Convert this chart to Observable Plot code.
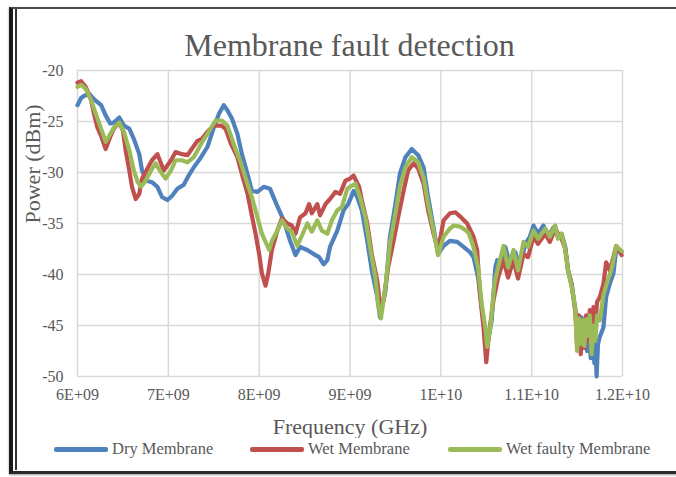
<!DOCTYPE html>
<html>
<head>
<meta charset="utf-8">
<script src="https://cdn.jsdelivr.net/npm/d3@7"></script>
<script src="https://cdn.jsdelivr.net/npm/@observablehq/plot@0.6"></script>
<style>
  html, body { margin: 0; padding: 0; background: #fff; }
  #wrap { position: relative; width: 676px; height: 477px; overflow: hidden; font-family: "Liberation Serif", serif; color: #595959; }
  #frame1 { position: absolute; left: 9px; top: 7px; width: 720px; height: 462px; border-left: 4px solid #1b1b1b; border-top: 2px solid #4a4a4a; border-bottom: 3px solid #2a2a2a; box-shadow: 0 1px 2px #999; }
  #frame2 { position: absolute; left: 15px; top: 9px; width: 2px; height: 461px; background: #333; }
  #title { position: absolute; left: 77px; width: 545px; top: 26px; text-align: center; font-size: 32px; line-height: 38px; }
  #chart { position: absolute; left: 0; top: 50px; }
  .lg { position: absolute; top: 439px; height: 20px; font-size: 16.5px; line-height: 20px; white-space: nowrap; }
  .lg span.sw { position: absolute; left: 0; top: 8px; width: 54px; height: 4.5px; border-radius: 2px; }
  .lg span.tx { position: absolute; left: 58px; top: 0; }
</style>
</head>
<body>
<div id="wrap">
  <div id="frame1"></div>
  <div id="frame2"></div>
  <div id="title">Membrane fault detection</div>
  <div id="chart"></div>
  <div id="legend"></div>
</div>
<script>
// ---- data (frequency in GHz, power in dBm) ----
const seriesNames = ["Dry Membrane", "Wet Membrane", "Wet faulty Membrane"];
const seriesColors = ["#4F81BD", "#C0504D", "#9BBB59"];

const freqDry = [6.00,6.04,6.07,6.13,6.18,6.26,6.31,6.36,6.40,6.46,6.51,6.57,6.62,6.68,6.71,6.76,6.82,6.88,6.93,6.99,7.04,7.10,7.17,7.23,7.28,7.36,7.43,7.50,7.56,7.61,7.65,7.70,7.76,7.81,7.87,7.92,7.98,8.05,8.12,8.19,8.27,8.34,8.40,8.45,8.53,8.60,8.66,8.71,8.75,8.78,8.86,8.93,8.98,9.04,9.08,9.13,9.19,9.24,9.30,9.33,9.39,9.44,9.50,9.55,9.61,9.68,9.75,9.81,9.86,9.92,9.97,10.03,10.10,10.18,10.25,10.32,10.36,10.41,10.45,10.49,10.52,10.56,10.60,10.62,10.65,10.71,10.76,10.82,10.87,10.93,10.98,11.02,11.07,11.13,11.18,11.24,11.29,11.33,11.37,11.40,11.44,11.48,11.51,11.53,11.55,11.57,11.59,11.61,11.63,11.65,11.67,11.69,11.70,11.715,11.73,11.75,11.79,11.82,11.86,11.90,11.93,11.99];
const powerDry = [-23.4,-22.7,-22.5,-22.3,-22.8,-23.4,-24.4,-25.2,-25.1,-24.6,-25.4,-25.7,-26.7,-28.2,-29.8,-30.8,-30.95,-31.4,-32.4,-32.7,-32.3,-31.6,-31.2,-30.2,-29.5,-28.5,-27.5,-25.6,-24.2,-23.4,-23.9,-24.7,-26.2,-28.2,-30.1,-31.8,-31.9,-31.4,-31.6,-33.1,-34.7,-36.7,-38.1,-37.3,-37.6,-38.0,-38.3,-39.0,-38.6,-37.3,-35.7,-33.7,-33.1,-31.8,-32.4,-33.7,-36.7,-39.6,-42.2,-44.2,-41.6,-36.3,-33.1,-30.1,-28.5,-27.7,-28.3,-29.5,-32.4,-35.4,-38.0,-37.2,-36.7,-36.8,-37.3,-37.8,-38.3,-40.3,-43.2,-45.8,-46.5,-44.5,-39.3,-38.6,-39.1,-37.3,-39.0,-37.8,-39.3,-37.0,-36.3,-35.2,-36.0,-35.2,-36.3,-35.4,-36.3,-36.0,-37.3,-39.6,-40.9,-43.5,-44.5,-46.5,-44.2,-47.0,-44.6,-47.5,-45.0,-48.2,-45.5,-48.7,-46.5,-50.0,-46.8,-46.1,-45.2,-42.2,-40.9,-39.9,-37.6,-37.8];

const freqWet = [6.00,6.04,6.09,6.15,6.18,6.22,6.26,6.31,6.36,6.40,6.46,6.50,6.53,6.57,6.60,6.64,6.68,6.71,6.77,6.82,6.88,6.95,7.03,7.08,7.15,7.21,7.25,7.32,7.37,7.43,7.50,7.58,7.63,7.69,7.76,7.83,7.87,7.91,7.96,8.00,8.03,8.07,8.10,8.14,8.20,8.25,8.31,8.36,8.40,8.45,8.51,8.55,8.58,8.64,8.67,8.73,8.78,8.84,8.89,8.95,9.00,9.04,9.10,9.13,9.19,9.24,9.30,9.33,9.37,9.42,9.48,9.53,9.59,9.64,9.70,9.75,9.81,9.86,9.92,9.97,10.03,10.10,10.16,10.21,10.29,10.36,10.40,10.43,10.47,10.50,10.53,10.58,10.63,10.69,10.74,10.80,10.85,10.91,10.96,11.02,11.07,11.15,11.20,11.26,11.31,11.33,11.37,11.40,11.44,11.48,11.50,11.52,11.54,11.56,11.58,11.60,11.62,11.64,11.66,11.68,11.70,11.72,11.75,11.79,11.82,11.86,11.90,11.93,11.99];
const powerWet = [-21.2,-21.05,-21.6,-22.9,-24.2,-25.6,-26.4,-27.7,-26.5,-25.7,-25.1,-25.9,-27.8,-29.8,-31.4,-32.6,-32.1,-30.6,-29.6,-28.8,-28.2,-29.8,-28.8,-28.0,-28.2,-28.3,-27.8,-26.9,-26.7,-26.0,-25.4,-25.4,-25.7,-27.2,-28.5,-30.8,-32.0,-33.8,-36.0,-38.0,-39.9,-41.1,-39.9,-37.6,-35.7,-34.5,-35.0,-35.2,-36.0,-34.4,-34.0,-33.1,-34.0,-33.1,-34.2,-33.1,-32.6,-31.9,-32.1,-30.8,-30.6,-30.3,-31.4,-32.7,-35.0,-38.0,-40.6,-42.9,-42.5,-39.3,-36.7,-34.4,-31.8,-29.8,-29.1,-29.6,-31.1,-33.7,-36.0,-37.6,-34.7,-34.0,-33.9,-34.3,-35.0,-36.3,-37.6,-41.9,-45.2,-48.6,-45.8,-42.5,-40.3,-38.6,-40.3,-38.6,-40.4,-38.0,-38.3,-36.3,-37.0,-36.0,-36.8,-35.5,-36.3,-36.5,-37.5,-39.5,-41.0,-43.5,-47.0,-44.0,-47.8,-44.5,-47.2,-44.0,-46.5,-43.5,-46.0,-43.2,-45.0,-42.7,-42.2,-40.9,-38.8,-39.6,-38.3,-37.2,-38.1];

const freqFaulty = [6.00,6.04,6.09,6.15,6.20,6.26,6.31,6.35,6.40,6.46,6.51,6.57,6.62,6.66,6.70,6.75,6.81,6.86,6.92,6.97,7.03,7.08,7.15,7.21,7.28,7.36,7.43,7.52,7.59,7.65,7.72,7.80,7.87,7.92,7.96,8.03,8.11,8.14,8.20,8.25,8.31,8.36,8.42,8.47,8.53,8.58,8.64,8.69,8.75,8.80,8.86,8.91,8.97,9.02,9.06,9.11,9.17,9.22,9.28,9.31,9.34,9.39,9.44,9.50,9.55,9.61,9.68,9.75,9.81,9.86,9.92,9.97,10.03,10.10,10.14,10.21,10.28,10.31,10.36,10.41,10.45,10.49,10.51,10.55,10.59,10.63,10.69,10.74,10.80,10.85,10.91,10.96,11.02,11.07,11.15,11.20,11.26,11.29,11.33,11.37,11.40,11.44,11.48,11.50,11.52,11.54,11.56,11.58,11.60,11.62,11.64,11.66,11.68,11.70,11.72,11.75,11.79,11.84,11.88,11.93,11.99];
const powerFaulty = [-21.6,-21.4,-21.8,-22.9,-24.2,-25.7,-27.0,-26.4,-25.6,-25.1,-26.0,-27.8,-29.8,-30.9,-31.4,-30.8,-29.8,-29.1,-30.0,-30.6,-29.8,-28.8,-28.8,-29.0,-28.5,-27.2,-26.2,-24.9,-24.9,-25.4,-27.2,-29.1,-31.1,-32.4,-33.7,-36.0,-37.6,-36.7,-35.7,-34.7,-35.5,-35.8,-37.2,-36.2,-35.0,-35.8,-34.7,-35.7,-36.0,-34.7,-33.7,-33.4,-31.6,-31.3,-31.1,-32.4,-34.4,-37.3,-40.3,-42.9,-44.3,-41.2,-37.0,-34.0,-31.4,-29.5,-28.5,-29.0,-30.5,-33.1,-35.7,-38.1,-36.3,-35.5,-35.2,-35.3,-35.7,-36.0,-37.3,-39.3,-42.9,-45.2,-47.1,-44.8,-40.9,-39.3,-37.2,-39.3,-37.6,-39.6,-36.8,-37.3,-35.7,-36.5,-35.5,-36.3,-35.2,-36.5,-36.0,-37.6,-39.6,-41.2,-43.2,-47.5,-44.3,-46.8,-44.5,-47.0,-44.4,-46.0,-44.0,-47.8,-45.0,-46.5,-44.0,-44.5,-42.0,-40.5,-39.5,-37.2,-37.7];

const xTicks = [6e9, 7e9, 8e9, 9e9, 1e10, 1.1e10, 1.2e10];
const yTicks = [-50, -45, -40, -35, -30, -25, -20];

// ---- build table ----
const rows = [];
[[freqDry, powerDry], [freqWet, powerWet], [freqFaulty, powerFaulty]].forEach(([f, p], i) => {
  f.forEach((v, j) => rows.push({series: seriesNames[i], freq: v * 1e9, power: p[j]}));
});

const fmtE = d => {
  const e = Math.floor(Math.log10(d) + 1e-9);
  const m = +(d / Math.pow(10, e)).toFixed(1);
  return `${m}E+${String(e).padStart(2, "0")}`;
};

const chart = Plot.plot({
  width: 676,
  height: 388,
  marginLeft: 77,
  marginRight: 54,
  marginTop: 20,
  marginBottom: 62,
  style: {fontFamily: "Liberation Serif, serif", color: "#595959", background: "transparent"},
  x: {domain: [6e9, 1.2e10], ticks: xTicks},
  y: {domain: [-50, -20], ticks: yTicks},
  color: {domain: seriesNames, range: seriesColors},
  marks: [
    Plot.gridX(xTicks, {stroke: "#d9d9d9", strokeOpacity: 1, strokeWidth: 1.5}),
    Plot.gridY(yTicks, {stroke: "#d9d9d9", strokeOpacity: 1, strokeWidth: 1.5}),
    Plot.axisX(xTicks, {tickSize: 0, tickPadding: 12, tickFormat: fmtE, fontSize: 16, label: null, fill: "#595959"}),
    Plot.axisY(yTicks, {tickSize: 0, tickPadding: 14, tickFormat: d => String(d), fontSize: 16, label: null, fill: "#595959"}),
    Plot.line(rows, {x: "freq", y: "power", z: "series", stroke: "series", strokeWidth: 4.2, strokeLinejoin: "round", strokeLinecap: "round"}),
    Plot.text(["Frequency (GHz)"], {frameAnchor: "bottom", dy: 50, fontSize: 22, fill: "#595959", lineAnchor: "middle"}),
    Plot.text(["Power (dBm)"], {frameAnchor: "left", dx: -45, rotate: -90, fontSize: 22, fill: "#595959", lineAnchor: "middle"})
  ]
});
document.getElementById("chart").appendChild(chart);

// ---- legend ----
const legendLeft = [54, 250, 448];
const leg = document.getElementById("legend");
seriesNames.forEach((n, i) => {
  const d = document.createElement("div");
  d.className = "lg";
  d.style.left = legendLeft[i] + "px";
  d.innerHTML = `<span class="sw" style="background:${seriesColors[i]}"></span><span class="tx">${n}</span>`;
  leg.appendChild(d);
});
</script>
</body>
</html>
